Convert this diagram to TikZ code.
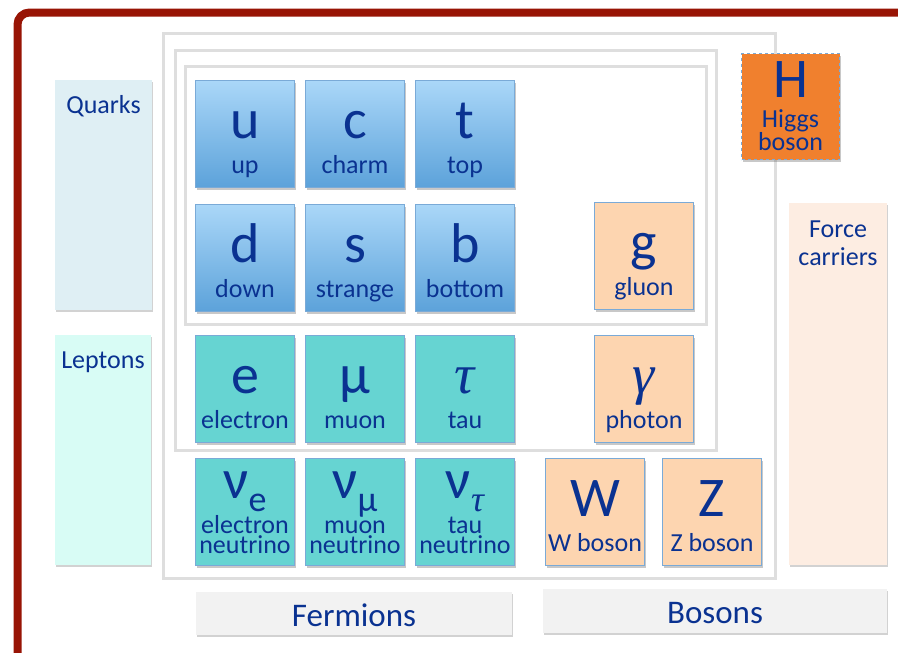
\documentclass[tikz,border=0pt]{standalone}
\usepackage{fontspec}
\setmainfont{Carlito}
\newfontfamily\grkit{Liberation Serif}
\usetikzlibrary{shadows}
\definecolor{qtop}{RGB}{170,215,248}
\definecolor{qbot}{RGB}{92,162,218}
\definecolor{cellborder}{RGB}{122,170,215}
\definecolor{lep}{RGB}{102,212,210}
\definecolor{bos}{RGB}{253,213,176}
\definecolor{hig}{RGB}{240,128,46}
\definecolor{tblue}{RGB}{10,50,145}
\definecolor{quarkbg}{RGB}{223,239,244}
\definecolor{leptonbg}{RGB}{216,252,245}
\definecolor{forcebg}{RGB}{253,237,226}
\definecolor{gbox}{RGB}{242,242,242}
\definecolor{framecol}{RGB}{222,222,222}
\definecolor{darkred}{RGB}{152,20,5}
\tikzset{
  cellbase/.style={draw=cellborder, line width=1pt, minimum width=99pt, minimum height=107pt,
    anchor=north west, inner sep=0pt,
    drop shadow={shadow xshift=1pt, shadow yshift=-2.5pt, opacity=0.3, fill=black!70}},
  quark/.style={cellbase, top color=qtop, bottom color=qbot},
  lepton/.style={cellbase, fill=lep},
  boson/.style={cellbase, fill=bos},
  higgs/.style={cellbase, fill=hig, dashed},
  sym/.style={anchor=base, text=tblue, font=\fontsize{56}{56}\selectfont, inner sep=0pt},
  nm/.style={anchor=base, text=tblue, font=\fontsize{26}{26}\selectfont, inner sep=0pt},
  smallnm/.style={anchor=base, text=tblue, font=\fontsize{26}{26}\selectfont, inner sep=0pt},
  catbox/.style={anchor=north west, inner sep=0pt,
    drop shadow={shadow xshift=1pt, shadow yshift=-2pt, opacity=0.25, fill=black!70}},
  cattext/.style={anchor=base, text=tblue, font=\fontsize{26}{26}\selectfont, inner sep=0pt},
  frameline/.style={draw=framecol, line width=3pt},
  redframe/.style={draw=darkred, line width=8pt, rounded corners=12pt},
}
\newcommand\pcell[6]{%
  \node[#1] (#2) at (#3,-#4) {};
  \node[sym] (#2-s) at ([yshift=-58pt]#2.north) {#5};
  \node[nm] (#2-n) at ([yshift=-93pt]#2.north) {#6};
}
\begin{document}
\begin{tikzpicture}[x=1pt,y=1pt]
\useasboundingbox (0,0) rectangle (898,-653);
\fill[white] (0,0) rectangle (898,-653);
% red frame
\draw[redframe] (17.5,-720) -- (17.5,-12.5) -- (960,-12.5);
% gray frames
\draw[frameline] (163,-33) rectangle (775,-578);
\draw[frameline] (175,-50) rectangle (716,-450);
\draw[frameline] (185,-66) rectangle (706,-324);
% category boxes
\node[catbox, fill=quarkbg, minimum width=97pt, minimum height=230pt] (quarks) at (55,-80) {};
\node[cattext] (quarks-t) at (103.5,-113) {Quarks};
\node[catbox, fill=leptonbg, minimum width=96pt, minimum height=230pt] (leptons) at (55,-335) {};
\node[cattext] (leptons-t) at (103,-368) {Leptons};
\node[catbox, fill=forcebg, minimum width=98pt, minimum height=362pt] (force) at (789,-203) {};
\node[cattext] (force-t1) at (838,-237) {Force};
\node[cattext] (force-t2) at (838,-265) {carriers};
\node[catbox, fill=gbox, minimum width=316pt, minimum height=43pt] (fermions) at (196,-592) {};
\node[cattext, font=\fontsize{33}{33}\selectfont] (fermions-t) at (354,-626) {Fermions};
\node[catbox, fill=gbox, minimum width=344pt, minimum height=44pt] (bosons) at (543,-589) {};
\node[cattext, font=\fontsize{33}{33}\selectfont] (bosons-t) at (715,-623) {Bosons};
% quarks
\pcell{quark}{u}{195}{80}{u}{up}
\pcell{quark}{c}{305}{80}{c}{charm}
\pcell{quark}{t}{415}{80}{t}{top}
\pcell{quark}{d}{195}{204}{d}{down}
\pcell{quark}{s}{305}{204}{s}{strange}
\pcell{quark}{b}{415}{204}{b}{bottom}
% leptons
\pcell{lepton}{e}{195}{335}{e}{electron}
\pcell{lepton}{mu}{305}{335}{μ}{muon}
\pcell{lepton}{tau}{415}{335}{{\grkit\itshape τ}}{tau}
% bosons
\pcell{boson}{g}{594}{202}{g}{gluon}
\pcell{boson}{gamma}{594}{335}{{\grkit\itshape γ}}{photon}
\pcell{boson}{W}{545}{458}{W}{W boson}
\pcell{boson}{Z}{662}{458}{Z}{Z boson}
% neutrinos
\node[lepton] (nue) at (195,-458) {};
\node[sym] (nue-s) at ([yshift=-40pt]nue.north) {ν\raisebox{-13pt}{\fontsize{36}{36}\selectfont e}};
\node[smallnm] (nue-n1) at ([yshift=-75pt]nue.north) {electron};
\node[smallnm] (nue-n2) at ([yshift=-95pt]nue.north) {neutrino};
\node[lepton] (numu) at (305,-458) {};
\node[sym] (numu-s) at ([yshift=-40pt]numu.north) {ν\raisebox{-13pt}{\fontsize{36}{36}\selectfont μ}};
\node[smallnm] (numu-n1) at ([yshift=-75pt]numu.north) {muon};
\node[smallnm] (numu-n2) at ([yshift=-95pt]numu.north) {neutrino};
\node[lepton] (nutau) at (415,-458) {};
\node[sym] (nutau-s) at ([yshift=-40pt]nutau.north) {ν\raisebox{-13pt}{\fontsize{36}{36}\selectfont\grkit\itshape τ}};
\node[smallnm] (nutau-n1) at ([yshift=-75pt]nutau.north) {tau};
\node[smallnm] (nutau-n2) at ([yshift=-95pt]nutau.north) {neutrino};
% Higgs
\node[higgs, minimum width=98pt, minimum height=106pt] (H) at (741,-53) {};
\node[sym] (H-s) at ([yshift=-44pt]H.north) {H};
\node[nm] (H-n1) at ([yshift=-74pt]H.north) {Higgs};
\node[nm] (H-n2) at ([yshift=-97pt]H.north) {boson};
\end{tikzpicture}
\end{document}
